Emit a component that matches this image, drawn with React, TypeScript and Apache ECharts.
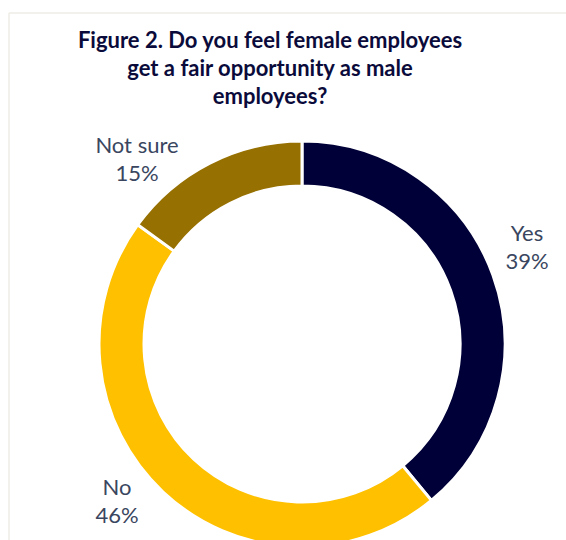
import React, { useEffect, useRef } from "react";
import * as echarts from "echarts";

const categories = ["Yes", "No", "Not sure"];
const values = [39, 46, 15];
const colors = ["#000038", "#FFC000", "#967000"];
const titleLines = [
  "Figure 2. Do you feel female employees",
  "get a fair opportunity as male",
  "employees?",
];
// label anchor positions (px)
const labelPos = [
  [527, 246],
  [117, 500],
  [137, 158],
];

export default function App() {
  const ref = useRef<HTMLDivElement>(null);
  useEffect(() => {
    if (!ref.current) return;
    const chart = echarts.init(ref.current, undefined, { renderer: "svg" });
    chart.setOption({
      animation: false,
      backgroundColor: "#ffffff",
      title: {
        text: titleLines.join("\n"),
        left: 265,
        top: 20,
        textAlign: "center",
        textStyle: {
          fontFamily: "Lato",
          fontWeight: "bold",
          fontSize: 22,
          lineHeight: 28,
          color: "#0B0B3B",
        },
      },
      graphic: [
        { type: "line", shape: { x1: 9, y1: 13, x2: 566, y2: 13 }, style: { stroke: "#EEECE4", lineWidth: 1.5 } },
        { type: "line", shape: { x1: 9, y1: 13, x2: 9, y2: 540 }, style: { stroke: "#EEECE4", lineWidth: 1.5 } },
      ],
      series: [
        {
          type: "pie",
          center: [302, 344],
          radius: [158, 203],
          startAngle: 90,
          clockwise: true,
          avoidLabelOverlap: false,
          itemStyle: { borderColor: "#ffffff", borderWidth: 3 },
          label: {
            show: true,
            position: "outside",
            formatter: (p: any) => `${p.name}\n${p.value}%`,
            fontFamily: "Lato",
            fontSize: 22,
            lineHeight: 28,
            color: "#3A4660",
            align: "center",
          },
          labelLine: { show: false },
          labelLayout: (p: any) => ({
            x: labelPos[p.dataIndex][0],
            y: labelPos[p.dataIndex][1],
            align: "center",
            verticalAlign: "middle",
          }),
          emphasis: { disabled: true },
          data: categories.map((c, i) => ({
            name: c,
            value: values[i],
            itemStyle: { color: colors[i] },
          })),
        },
      ],
    });
    return () => chart.dispose();
  }, []);
  return (
    <div
      ref={ref}
      style={{ position: "fixed", left: 0, top: 0, width: 566, height: 540 }}
    />
  );
}
